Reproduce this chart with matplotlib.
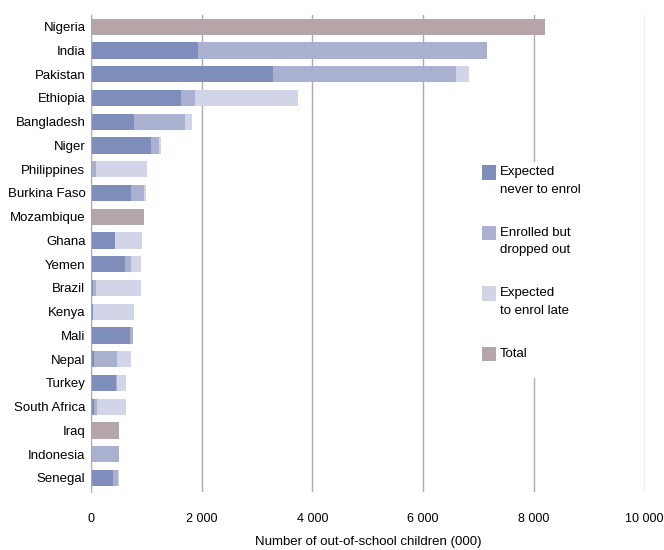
import numpy as np
import matplotlib.pyplot as plt
from matplotlib.patches import Rectangle

plt.rcParams['font.family'] = ['Liberation Sans Narrow', 'Liberation Sans', 'DejaVu Sans']

countries = ['Nigeria', 'India', 'Pakistan', 'Ethiopia', 'Bangladesh', 'Niger',
             'Philippines', 'Burkina Faso', 'Mozambique', 'Ghana', 'Yemen', 'Brazil',
             'Kenya', 'Mali', 'Nepal', 'Turkey', 'South Africa', 'Iraq', 'Indonesia',
             'Senegal']
# values in thousands; rows with only a total have zeros in the breakdown
never = [0, 1930, 3280, 1620, 770, 1090, 0, 720, 0, 430, 610, 30, 35, 700, 50, 460, 50, 0, 0, 400]
dropped = [0, 5220, 3310, 265, 930, 130, 85, 230, 0, 0, 105, 55, 0, 60, 425, 15, 55, 0, 505, 90]
late = [0, 0, 230, 1850, 125, 45, 920, 50, 0, 495, 190, 820, 735, 5, 240, 165, 535, 0, 0, 15]
total = [8200, 0, 0, 0, 0, 0, 0, 0, 950, 0, 0, 0, 0, 0, 0, 0, 0, 505, 0, 0]

c_never = '#7f8dbb'
c_drop = '#a9b0d0'
c_late = '#d2d5e7'
c_total = '#b3a5a8'
grid_c = '#ababab'

fig = plt.figure(figsize=(6.64, 5.5), dpi=100)
ax = fig.add_axes([0.137, 0.105, 0.834, 0.868])

y = np.arange(len(countries))
h = 0.68
never = np.array(never)
dropped = np.array(dropped)
late = np.array(late)
ax.barh(y, never, height=h, color=c_never, zorder=2)
ax.barh(y, dropped, left=never, height=h, color=c_drop, zorder=2)
ax.barh(y, late, left=never + dropped, height=h, color=c_late, zorder=2)
ax.barh(y, total, height=h, color=c_total, zorder=2)

ax.set_xlim(0, 10000)
ax.set_ylim(19.6, -0.5)
ax.set_yticks(y)
ax.set_yticklabels(countries, fontsize=9.5)
ax.set_xticks([0, 2000, 4000, 6000, 8000, 10000])
ax.set_xticklabels(['0', '2 000', '4 000', '6 000', '8 000', '10 000'], fontsize=9)
ax.tick_params(length=0, pad=4)
ax.tick_params(axis='x', pad=15)
ax.xaxis.grid(True, color=grid_c, linewidth=1, zorder=0)
for s in ['top', 'right', 'bottom']:
    ax.spines[s].set_visible(False)
ax.spines['left'].set_color(grid_c)
ax.set_xlabel('Number of out-of-school children (000)', fontsize=9.5, labelpad=8)

# legend drawn by hand so the swatch sits at the first text line
leg_items = [(c_never, 'Expected\nnever to enrol'),
             (c_drop, 'Enrolled but\ndropped out'),
             (c_late, 'Expected\nto enrol late'),
             (c_total, 'Total')]
ax.add_patch(Rectangle((0.685, 0.239), 0.2, 0.453, transform=ax.transAxes,
                       facecolor='white', edgecolor='none', zorder=3))
top = 0.667
for i, (c, lab) in enumerate(leg_items):
    yy = top - i * 0.127
    ax.add_patch(Rectangle((0.707, yy - 0.012), 0.025, 0.03, transform=ax.transAxes,
                           facecolor=c, edgecolor='none', zorder=4))
    ax.text(0.738, yy + 0.016, lab, transform=ax.transAxes, fontsize=9.5,
            va='top', ha='left', linespacing=1.6, zorder=4)

fig.savefig('out.png', dpi=100)
